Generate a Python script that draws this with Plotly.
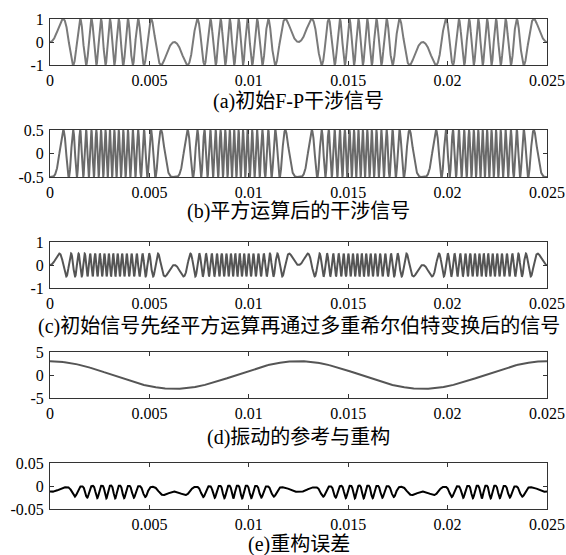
import numpy as np
import plotly.graph_objects as go

# ---- values ----
t_end = 0.025                 # s, x range
n_samples = 20001
vib_amplitude = 3.0           # panel (d) peak value
vib_frequency = 80.0          # Hz: peaks at 0, 0.0125, 0.025
fringe_phase_amp = 9 * np.pi  # 9 fringes per half period of vibration
phase_at_peak = np.pi / 2     # signal (a) is 0 at t = 0 and at the humps
quad_amp = 0.5                # panels (b), (c) amplitude
err_mean = -0.010             # panel (e) offset
err_amp = 0.014               # panel (e) oscillation amplitude
err_phase = 0.6
err_harm_amp = 0.003

x_ticks = [0, 0.005, 0.01, 0.015, 0.02, 0.025]
x_tick_labels = ["0", "0.005", "0.01", "0.015", "0.02", "0.025"]
e_x_ticks = [0.005, 0.01, 0.015, 0.02, 0.025]
e_x_tick_labels = ["0.005", "0.01", "0.015", "0.02", "0.025"]

y_ranges = [[-1, 1], [-0.5, 0.5], [-1, 1], [-5, 5], [-0.05, 0.05]]
y_ticks = [[-1, 0, 1], [-0.5, 0, 0.5], [-1, 0, 1], [-5, 0, 5], [-0.05, 0, 0.05]]
y_tick_labels = [["-1", "0", "1"], ["-0.5", "0", "0.5"], ["-1", "0", "1"],
                 ["-5", "0", "5"], ["-0.05", "0", "0.05"]]
titles = ["(a)初始F-P干涉信号", "(b)平方运算后的干涉信号",
          "(c)初始信号先经平方运算再通过多重希尔伯特变换后的信号",
          "(d)振动的参考与重构", "(e)重构误差"]
line_colors = ["#7a7a7a", "#6a6a6a", "#555555", "#555555", "#000000"]

# ---- signals from the physical model ----
t = np.linspace(0, t_end, n_samples)
w = 2 * np.pi * vib_frequency
phi = phase_at_peak - fringe_phase_amp + fringe_phase_amp * np.cos(w * t)
sig_a = np.cos(phi)
sig_b = quad_amp * np.cos(2 * phi)
sig_c = quad_amp * np.sin(2 * phi)
sig_d = vib_amplitude * np.cos(w * t)
env = 0.3 + 0.7 * np.abs(np.sin(w * t)) ** 0.7
psi = phi + err_phase
sig_e = err_mean + env * (err_amp * np.cos(psi) - err_harm_amp * np.cos(2 * psi))

signals = [sig_a, sig_b, sig_c, sig_d, sig_e]

# ---- layout ----
W, H = 566, 555
ml, mr, mt, mb = 50, 19, 19, 46
ph = H - mt - mb
panels_px = [(19, 65), (130, 177), (242, 288), (352, 398), (463, 509)]
title_y_px = [101, 212, 326, 437, 544]

def fy(px):
    return (H - mb - px) / ph

fig = go.Figure()
font_main = "Liberation Serif, Times New Roman, Noto Sans CJK SC, serif"
layout = dict(template="none", width=W, height=H,
              margin=dict(l=ml, r=mr, t=mt, b=mb, autoexpand=False),
              paper_bgcolor="white", plot_bgcolor="white", showlegend=False,
              font=dict(family=font_main, size=16, color="black"))
annotations = []
for i in range(5):
    k = "" if i == 0 else str(i + 1)
    fig.add_trace(go.Scatter(x=t, y=signals[i], mode="lines",
                             line=dict(color=line_colors[i], width=2),
                             xaxis="x" + k, yaxis="y" + k, hoverinfo="skip"))
    top, bot = panels_px[i]
    if i == 4:
        xt, xl = e_x_ticks, e_x_tick_labels
    else:
        xt, xl = x_ticks, x_tick_labels
    layout["xaxis" + k] = dict(domain=[0, 1], range=[0, t_end], anchor="y" + k,
                               tickmode="array", tickvals=xt, ticktext=xl,
                               ticks="inside", ticklen=4, tickcolor="#333",
                               showline=True, linecolor="#333", linewidth=1,
                               mirror="ticks", showgrid=False, zeroline=False,
                               automargin=False, ticklabelstandoff=1,
                               tickfont=dict(size=16, family=font_main))
    layout["yaxis" + k] = dict(domain=[fy(bot), fy(top)], range=y_ranges[i],
                               anchor="x" + k, tickmode="array",
                               tickvals=y_ticks[i], ticktext=y_tick_labels[i],
                               ticks="inside", ticklen=4, tickcolor="#333",
                               showline=True, linecolor="#333", linewidth=1,
                               mirror="ticks", showgrid=False, zeroline=False,
                               automargin=False, ticklabelstandoff=2,
                               tickfont=dict(size=16, family=font_main))
    annotations.append(dict(text=titles[i], xref="paper", yref="paper",
                            x=0.5, y=fy(title_y_px[i]), xanchor="center",
                            yanchor="middle", showarrow=False,
                            font=dict(size=20, family=font_main, color="black")))
layout["annotations"] = annotations
fig.update_layout(**layout)
fig.write_html("out.html", config={"displayModeBar": False},
               post_script="document.body.style.margin='0';"
                           "document.body.style.overflow='hidden';")
